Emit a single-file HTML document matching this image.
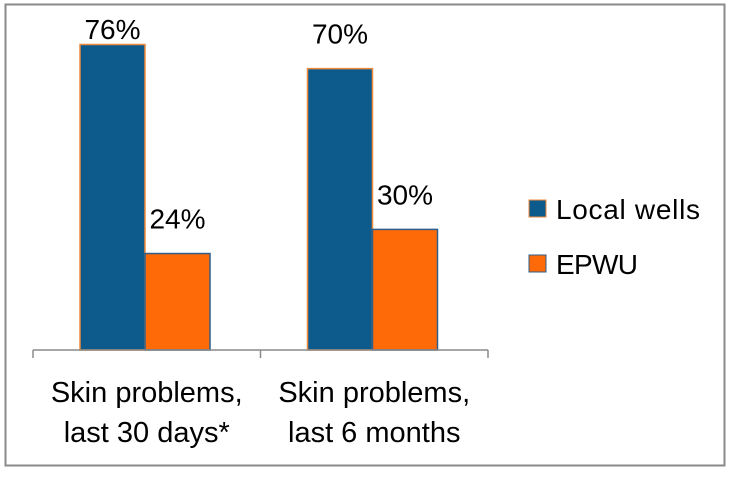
<!DOCTYPE html>
<html><head><meta charset="utf-8"><style>
body{margin:0;background:#fff}
svg text{font-family:"Liberation Sans",sans-serif;fill:#000}
</style></head><body>
<svg width="730" height="472" viewBox="0 0 730 472">
<rect x="5.5" y="4.5" width="719" height="461" fill="#fff" stroke="#8a8a8a" stroke-width="2"/>
<g id="bars"></g>
<g id="axis"></g>
<g>
<rect x="529" y="200" width="17" height="17" fill="#0d5a8c" stroke="#f08a3c"/>
<text x="556" y="219" font-size="28" textLength="144">Local wells</text>
<rect x="529" y="255" width="17" height="17" fill="#ff6a08" stroke="#2d5f8a"/>
<text x="556" y="274" font-size="28" textLength="82">EPWU</text>
</g>
</svg>
<script>
const categories=[["Skin problems,","last 30 days*"],["Skin problems,","last 6 months"]];
const localWells=[76,70];
const epwu=[24,30];
const NS="http://www.w3.org/2000/svg";
const base=350, scale=4.02, x0=33, catW=227.5, barW=65;
function y(v){return base-v*scale;}
function catX(i){return x0+i*catW;}
const bars=document.getElementById('bars'), axis=document.getElementById('axis');
function mk(t,a,p){const e=document.createElementNS(NS,t);for(const k in a)e.setAttribute(k,a[k]);p.appendChild(e);return e;}
const series=[{d:localWells,fill:"#0d5a8c",stroke:"#f08a3c",n:"local-wells"},{d:epwu,fill:"#ff6a08",stroke:"#2d5f8a",n:"epwu"}];
categories.forEach((c,i)=>{
  series.forEach((s,j)=>{
    const bx=catX(i)+47+j*barW, top=y(s.d[i]);
    const r=mk('rect',{x:bx,y:top,width:barW,height:base-top,fill:s.fill,stroke:s.stroke,'stroke-width':1.5},bars);
    
    
    const t=mk('text',{x:bx+barW/2,y:Math.max(top-25,39),'font-size':28,'text-anchor':'middle'},bars);
    t.textContent=s.d[i]+'%';
    
    
  });
  const lx=catX(i)+catW/2;
  c.forEach((ln,k)=>{
    const t=mk('text',{x:lx,y:402+k*40,'font-size':29,'text-anchor':'middle'},axis);
    t.textContent=ln;
    
    
  });
});
const ax=mk('line',{x1:x0,y1:base,x2:catX(categories.length),y2:base,stroke:'#8a8a8a','stroke-width':1.5},axis);


for(let i=0;i<=categories.length;i++){
  const tk=mk('line',{x1:catX(i),y1:base,x2:catX(i),y2:base+8,stroke:'#8a8a8a','stroke-width':1.5},axis);
  
  
}
</script>
</body></html>
